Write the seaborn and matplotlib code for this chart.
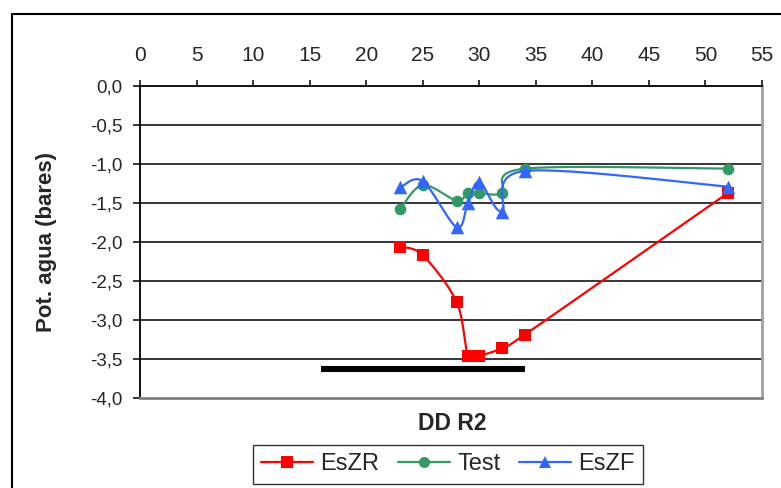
import numpy as np
import pandas as pd
import matplotlib
matplotlib.use("Agg")
import matplotlib.pyplot as plt
import seaborn as sns
from matplotlib.lines import Line2D
from matplotlib.ticker import FuncFormatter

# ---- data ----
dias = [23, 25, 28, 29, 30, 32, 34, 52]
eszr = [-2.06, -2.17, -2.77, -3.46, -3.46, -3.36, -3.19, -1.37]
test = [-1.58, -1.27, -1.47, -1.37, -1.37, -1.37, -1.06, -1.06]
eszf = [-1.30, -1.22, -1.81, -1.50, -1.23, -1.61, -1.09, -1.29]
series_names = ["EsZR", "Test", "EsZF"]
bar_x = [16, 34]
bar_y = -3.63
x_ticks = list(range(0, 56, 5))
y_ticks = [0.0, -0.5, -1.0, -1.5, -2.0, -2.5, -3.0, -3.5, -4.0]

sns.set_theme(style="white")
plt.rcParams["font.family"] = ["Liberation Sans", "DejaVu Sans"]

W, H = 781, 488
fig = plt.figure(figsize=(W / 100, H / 100), dpi=100)
fig.patch.set_facecolor("white")
ax = fig.add_axes([140 / W, 1 - 398 / H, (762 - 140) / W, (398 - 86) / H])
ax.set_xlim(0, 55)
ax.set_ylim(-4.0, 0.0)

def smooth(xs, ys, n=30):
    pts = ax.transData.transform(np.column_stack([xs, ys]))
    P = np.vstack([pts[0], pts, pts[-1]])
    out = []
    t = np.linspace(0, 1, n)[:, None]
    for i in range(1, len(P) - 2):
        p0, p1, p2, p3 = P[i - 1], P[i], P[i + 1], P[i + 2]
        c1 = p1 + (p2 - p0) / 6.0
        c2 = p2 - (p3 - p1) / 6.0
        seg = ((1 - t) ** 3) * p1 + 3 * ((1 - t) ** 2) * t * c1 + 3 * (1 - t) * t ** 2 * c2 + t ** 3 * p2
        out.append(seg if i == 1 else seg[1:])
    out = np.vstack(out)
    d = ax.transData.inverted().transform(out)
    return d[:, 0], d[:, 1]

colors = {"EsZR": "#FF0000", "Test": "#339966", "EsZF": "#3366FF"}
markers = {"EsZR": "s", "Test": "o", "EsZF": "^"}
msizes = {"EsZR": 75, "Test": 70, "EsZF": 95}
values = {"EsZR": eszr, "Test": test, "EsZF": eszf}

# grid lines
for yv in y_ticks[1:-1]:
    ax.axhline(yv, color="black", lw=1.1, zorder=1)

# black bar
sns.lineplot(x=bar_x, y=[bar_y, bar_y], ax=ax, color="black", lw=4.4,
             estimator=None, sort=False, legend=False, zorder=2)
ax.lines[-1].set_solid_capstyle("butt")

z = 3
for name in series_names:
    sx, sy = smooth(dias, values[name])
    sns.lineplot(x=sx, y=sy, ax=ax, color=colors[name], lw=1.6, estimator=None,
                 sort=False, legend=False, zorder=z)
    sns.scatterplot(x=dias, y=values[name], ax=ax, color=colors[name],
                    marker=markers[name], s=msizes[name], edgecolor=colors[name],
                    linewidth=0, legend=False, zorder=z + 0.5)
    z += 1

# axes styling
ax.xaxis.tick_top()
ax.set_xticks(x_ticks)
ax.set_yticks(y_ticks)
ax.yaxis.set_major_formatter(FuncFormatter(lambda v, p: f"{v:.1f}".replace(".", ",")))
ax.tick_params(axis="x", which="major", top=True, bottom=False, direction="out",
               length=4, width=1.1, color="black", labelsize=15, pad=11)
ax.tick_params(axis="y", which="major", left=True, direction="out", length=5,
               width=1.1, color="black", labelsize=13.5, pad=7.5)
ax.spines["top"].set_color("black")
ax.spines["top"].set_linewidth(1.3)
ax.spines["left"].set_color("black")
ax.spines["left"].set_linewidth(1.3)
ax.spines["bottom"].set_color("#808080")
ax.spines["bottom"].set_linewidth(2)
ax.spines["right"].set_color("#A0A0A0")
ax.spines["right"].set_linewidth(2)
ax.set_xlabel("")
ax.set_ylabel("Pot. agua (bares)", fontsize=16, fontweight="bold")
ax.yaxis.set_label_coords((47 - 140) / (762 - 140), 0.5)
ax.yaxis.label.set_verticalalignment("center")

fig.text(452 / W, 1 - 423 / H, "DD R2", ha="center", va="center",
         fontsize=16.5, fontweight="bold")

# outer frame
fig.add_artist(Line2D([12 / W, 12 / W], [0, 1 - 14 / H], transform=fig.transFigure,
                      color="black", lw=1.5))
fig.add_artist(Line2D([12 / W, 1.0], [1 - 14 / H, 1 - 14 / H], transform=fig.transFigure,
                      color="black", lw=1.5))

handles = [Line2D([], [], color=colors[n], marker=markers[n], lw=1.6,
                  markersize=8 if n != "EsZF" else 9, markeredgewidth=0)
           for n in series_names]
leg = fig.legend(handles, series_names, loc="upper left",
                 bbox_to_anchor=(253 / W, 1 - 445 / H), ncol=3, fontsize=17,
                 frameon=True, fancybox=False, edgecolor="black",
                 handlelength=2.2, handletextpad=0.3, columnspacing=0.8,
                 borderpad=0.35, borderaxespad=0)
leg.get_frame().set_linewidth(1.0)

fig.savefig("out.png", dpi=100, facecolor="white")
